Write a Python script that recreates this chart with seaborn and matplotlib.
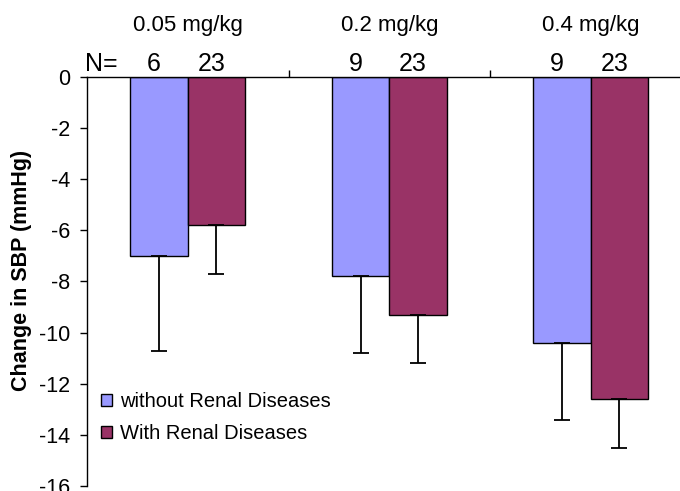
import matplotlib
matplotlib.use("Agg")
import matplotlib.pyplot as plt
import matplotlib.transforms as mtransforms
from matplotlib.patches import Patch
import seaborn as sns
import pandas as pd

# values
doses = ['0.05 mg/kg', '0.2 mg/kg', '0.4 mg/kg']
groups = ['without Renal Diseases', 'With Renal Diseases']
change_without = [-7.0, -7.8, -10.4]
change_with = [-5.8, -9.3, -12.6]
err_without = [3.7, 3.0, 3.0]
err_with = [1.9, 1.9, 1.9]
n_without = [6, 9, 9]
n_with = [23, 23, 23]
yticks = [0, -2, -4, -6, -8, -10, -12, -14, -16]

colors = ['#9999FF', '#993366']

df = pd.DataFrame({
    'dose': doses * 2,
    'group': [groups[0]] * 3 + [groups[1]] * 3,
    'change': change_without + change_with,
})

sns.set_style('white')
plt.rcParams['font.family'] = ['Liberation Sans', 'DejaVu Sans']
plt.rcParams['axes.unicode_minus'] = False
plt.rcParams['text.color'] = 'black'
plt.rcParams['axes.labelcolor'] = 'black'
plt.rcParams['xtick.color'] = 'black'
plt.rcParams['ytick.color'] = 'black'

fig = plt.figure(figsize=(6.8, 4.91), dpi=100)
ax = fig.add_axes([0.128, 0.0102, 0.872, 0.833])

sns.barplot(data=df, x='dose', y='change', hue='group', order=doses, hue_order=groups,
            palette=colors, saturation=1, width=0.57, gap=0, errorbar=None,
            edgecolor='black', linewidth=1, legend=False, ax=ax)

# one-sided (downward) error bars
for container, errs in zip(ax.containers, [err_without, err_with]):
    for bar, e in zip(container, errs):
        x = bar.get_x() + bar.get_width() / 2
        y = bar.get_y() + bar.get_height()
        ax.errorbar(x, y, yerr=[[e], [0]], color='black', lw=1.3, capsize=5.5, capthick=1.3)

ax.set_xlim(-0.5, 2.443)
ax.set_ylim(-16, 0)
ax.set_yticks(yticks)
ax.set_yticklabels([str(t) for t in yticks], fontsize=15.5)
ax.set_xlabel('')
ax.set_ylabel('Change in SBP (mmHg)', fontsize=15.5, fontweight='bold')
ax.yaxis.set_label_coords(-0.092, 0.528)

# x axis sits on top at 0, ticks between categories
ax.xaxis.tick_top()
ax.set_xticks([0.5, 1.5])
ax.set_xticklabels([])
ax.tick_params(axis='x', direction='out', length=5, width=1)
ax.tick_params(axis='y', direction='out', length=5, width=1, left=True, pad=7)
for side in ['right', 'bottom']:
    ax.spines[side].set_visible(False)
for side in ['left', 'top']:
    ax.spines[side].set_color('black')
    ax.spines[side].set_linewidth(1)
    ax.spines[side].set_zorder(5)

trans = mtransforms.blended_transform_factory(ax.transData, ax.transAxes)
for i, d in enumerate(doses):
    ax.text(i, 1.1132, d, transform=trans, ha='center', va='baseline', fontsize=16)
ax.text(-0.51, 1.0154, 'N=', transform=trans, ha='left', va='baseline', fontsize=18)
for container, ns in zip(ax.containers, [n_without, n_with]):
    for bar, n in zip(container, ns):
        x = bar.get_x() + bar.get_width() / 2 - 0.025
        ax.text(x, 1.0154, str(n), transform=trans, ha='center', va='baseline', fontsize=18)

handles = [Patch(facecolor=c, edgecolor='black', linewidth=1) for c in colors]
ax.legend(handles, groups, loc='upper left', bbox_to_anchor=(0.023, 0.23), frameon=False,
          fontsize=14.5, handlelength=0.55, handleheight=0.55, handletextpad=0.4,
          labelspacing=0.65, borderpad=0, borderaxespad=0)

fig.savefig('out.png', dpi=100)
